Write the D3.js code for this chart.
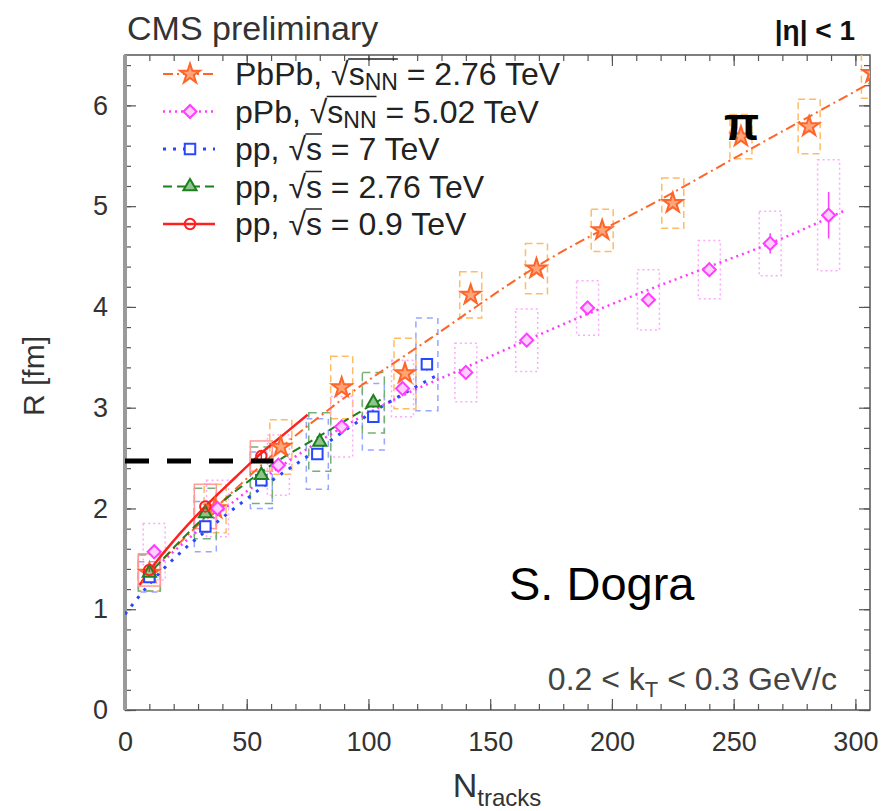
<!DOCTYPE html>
<html>
<head>
<meta charset="utf-8">
<script src="https://cdn.jsdelivr.net/npm/d3@7"></script>
<style>
body { margin: 0; background: #fff; }
text { font-family: "Liberation Sans", Arial, Helvetica, sans-serif; }
</style>
</head>
<body>
<div id="chart"></div>
<script>
// ---- data ----
// PbPb, sqrt(sNN) = 2.76 TeV
const pbpbN    = [10, 37, 64, 89, 115, 142, 169, 196, 225, 253, 281, 307];
const pbpbR    = [1.36, 2.0, 2.61, 3.2, 3.34, 4.12, 4.38, 4.76, 5.03, 5.69, 5.79, 6.32];
const pbpbSys  = [0.18, 0.24, 0.27, 0.31, 0.35, 0.23, 0.25, 0.21, 0.25, 0.22, 0.27, 0.25];
const pbpbStat = [0.02, 0.02, 0.03, 0.03, 0.03, 0.04, 0.04, 0.04, 0.05, 0.05, 0.06, 0.08];
const pbpbFitN = [10, 37, 63, 93, 125, 169, 224, 252, 309];
const pbpbFitR = [1.36, 2.0, 2.58, 3.15, 3.68, 4.4, 5.12, 5.5, 6.26];

// pPb, sqrt(sNN) = 5.02 TeV
const ppbN    = [12, 38, 63, 89, 114, 140, 165, 190, 215, 240, 265, 289];
const ppbR    = [1.57, 2.0, 2.43, 2.81, 3.19, 3.35, 3.67, 3.99, 4.07, 4.37, 4.63, 4.91];
const ppbSys  = [0.28, 0.28, 0.3, 0.3, 0.28, 0.29, 0.31, 0.27, 0.3, 0.29, 0.32, 0.55];
const ppbStat = [0.03, 0.03, 0.03, 0.03, 0.04, 0.04, 0.05, 0.05, 0.06, 0.07, 0.1, 0.23];
const ppbFitN = [10, 37, 63, 89, 114, 140, 165, 190, 215, 240, 265, 295];
const ppbFitR = [1.36, 1.92, 2.4, 2.8, 3.12, 3.4, 3.67, 3.93, 4.17, 4.4, 4.63, 4.95];

// pp, sqrt(s) = 7 TeV
const pp7N    = [10, 33, 56, 79, 102, 124];
const pp7R    = [1.32, 1.82, 2.28, 2.54, 2.91, 3.43];
const pp7Sys  = [0.15, 0.25, 0.28, 0.35, 0.33, 0.46];
const pp7Stat = [0.02, 0.02, 0.02, 0.03, 0.04, 0.06];
const pp7FitN = [0, 10, 20, 37, 57, 77, 100, 128];
const pp7FitR = [0.95, 1.25, 1.5, 1.85, 2.22, 2.55, 2.93, 3.32];

// pp, sqrt(s) = 2.76 TeV
const pp276N    = [10, 33, 56, 80, 102];
const pp276R    = [1.36, 1.95, 2.33, 2.66, 3.05];
const pp276Sys  = [0.18, 0.25, 0.28, 0.29, 0.3];
const pp276Stat = [0.02, 0.03, 0.03, 0.04, 0.05];
const pp276FitN = [8, 33, 57, 80, 105];
const pp276FitR = [1.3, 1.92, 2.38, 2.72, 3.08];

// pp, sqrt(s) = 0.9 TeV
const pp09N    = [10, 33, 56];
const pp09R    = [1.39, 2.02, 2.52];
const pp09Sys  = [0.16, 0.22, 0.15];
const pp09Stat = [0.02, 0.03, 0.04];
const pp09FitN = [6, 10, 20, 33, 45, 56, 66, 75];
const pp09FitR = [1.24, 1.38, 1.68, 2.02, 2.3, 2.55, 2.75, 2.93];

// black dashed reference line
const refN = [0, 61];
const refR = [2.47, 2.47];

const xTicks = [0, 50, 100, 150, 200, 250, 300];
const yTicks = [0, 1, 2, 3, 4, 5, 6];
const legendLabels = [
	["PbPb, ", "s", "NN", " = 2.76 TeV"],
	["pPb, ", "s", "NN", " = 5.02 TeV"],
	["pp, ", "s", "", " = 7 TeV"],
	["pp, ", "s", "", " = 2.76 TeV"],
	["pp, ", "s", "", " = 0.9 TeV"]
];

const series = [
	{n: pbpbN, r: pbpbR, sys: pbpbSys, stat: pbpbStat, fn: pbpbFitN, fr: pbpbFitR,
		color: "#ff6428", box: "#ffbb66", boxDash: "7,4", dash: "10,4,2,4", lw: 2,
		sym: d3.symbolStar, size: 120, fill: "#ffa57a", rot: 0},
	{n: ppbN, r: ppbR, sys: ppbSys, stat: ppbStat, fn: ppbFitN, fr: ppbFitR,
		color: "#ff3cff", box: "#ffa8ff", boxDash: "2,3", dash: "2,4", lw: 2.5,
		sym: d3.symbolSquare, size: 85, fill: "#ffd0ff", rot: 45},
	{n: pp7N, r: pp7R, sys: pp7Sys, stat: pp7Stat, fn: pp7FitN, fr: pp7FitR,
		color: "#2848ff", box: "#97a6ff", boxDash: "6,5", dash: "3,7", lw: 3,
		sym: d3.symbolSquare, size: 110, fill: "#ffffff", rot: 0},
	{n: pp276N, r: pp276R, sys: pp276Sys, stat: pp276Stat, fn: pp276FitN, fr: pp276FitR,
		color: "#1f7f1f", box: "#76b076", boxDash: "8,5", dash: "9,5", lw: 2,
		sym: d3.symbolTriangle, size: 75, fill: "#8fc48f", rot: 0},
	{n: pp09N, r: pp09R, sys: pp09Sys, stat: pp09Stat, fn: pp09FitN, fr: pp09FitR,
		color: "#ff2020", box: "#ff9a9a", boxDash: null, dash: null, lw: 2.5,
		sym: d3.symbolCircle, size: 85, fill: "none", rot: 0}
];

const margin = {top: 55, right: 15, bottom: 101, left: 125},
		width = 885 - margin.left - margin.right,
		height = 811 - margin.top - margin.bottom;

const root = d3.select("#chart").append("svg")
	.attr("width", 885)
	.attr("height", 811);

const svg = root.append("g")
	.attr("transform", `translate(${margin.left},${margin.top})`);

const x = d3.scaleLinear().domain([0, 306]).range([0, width]);
const y = d3.scaleLinear().domain([0, 6.5]).range([height, 0]);

svg.append("clipPath").attr("id", "plot-clip")
	.append("rect").attr("width", width).attr("height", height);

// axes, ticks inward on all four sides
const xMinor = d3.range(0, 306, 10);
const yMinor = d3.range(0, 6.5, 0.2).map(v => +v.toFixed(1));

function tickAxis(axis, pos, vals, size, fmt, pad) {
	const g = svg.append("g").attr("transform", pos)
		.call(axis.tickValues(vals).tickSize(-size).tickPadding(pad).tickFormat(fmt));
	g.select(".domain").remove();
	g.selectAll("line").attr("stroke", "#555").attr("stroke-width", 1.2);
	return g;
}
const none = () => "";
const bx = tickAxis(d3.axisBottom(x), `translate(0,${height})`, xTicks, 11, d3.format("d"), 22);
tickAxis(d3.axisBottom(x), `translate(0,${height})`, xMinor, 6, none, 0);
tickAxis(d3.axisTop(x), "translate(0,0)", xTicks, 11, none, 0);
tickAxis(d3.axisTop(x), "translate(0,0)", xMinor, 6, none, 0);
const ly = tickAxis(d3.axisLeft(y), "translate(0,0)", yTicks, 11, d3.format("d"), 17);
tickAxis(d3.axisLeft(y), "translate(0,0)", yMinor, 6, none, 0);
tickAxis(d3.axisRight(y), `translate(${width},0)`, yTicks, 11, none, 0);
tickAxis(d3.axisRight(y), `translate(${width},0)`, yMinor, 6, none, 0);

bx.selectAll("text").attr("font-size", 27).attr("fill", "#333");
ly.selectAll("text").attr("font-size", 27).attr("fill", "#333");

// frame
svg.append("rect")
	.attr("width", width).attr("height", height)
	.attr("fill", "none").attr("stroke", "#555").attr("stroke-width", 1.5);
svg.append("line")
	.attr("x1", 0).attr("x2", 0).attr("y1", 0).attr("y2", height)
	.attr("stroke", "#9a9a9a").attr("stroke-width", 4);

const plot = svg.append("g").attr("clip-path", "url(#plot-clip)");
const boxW = 11;

// systematic boxes
series.forEach(s => {
	plot.append("g").selectAll("rect")
		.data(s.n.map((n, i) => ({n, r: s.r[i], e: s.sys[i]})))
		.join("rect")
			.attr("x", d => x(d.n) - boxW)
			.attr("width", boxW * 2)
			.attr("y", d => y(d.r + d.e))
			.attr("height", d => y(d.r - d.e) - y(d.r + d.e))
			.attr("fill", "none")
			.attr("stroke", s.box)
			.attr("stroke-width", 1.5)
			.attr("stroke-dasharray", s.boxDash);
});

// fit curves
const line = d3.line().x(d => x(d[0])).y(d => y(d[1])).curve(d3.curveMonotoneX);
series.forEach(s => {
	plot.append("path")
		.datum(s.fn.map((n, i) => [n, s.fr[i]]))
		.attr("d", line)
		.attr("fill", "none")
		.attr("stroke", s.color)
		.attr("stroke-width", s.lw)
		.attr("stroke-dasharray", s.dash);
});

// stat errors and markers
series.forEach(s => {
	const pts = s.n.map((n, i) => ({n, r: s.r[i], e: s.stat[i]}));
	plot.append("g").selectAll("line")
		.data(pts)
		.join("line")
			.attr("x1", d => x(d.n)).attr("x2", d => x(d.n))
			.attr("y1", d => y(d.r + d.e)).attr("y2", d => y(d.r - d.e))
			.attr("stroke", s.color).attr("stroke-width", 1.5);
	plot.append("g").selectAll("path")
		.data(pts)
		.join("path")
			.attr("transform", d => `translate(${x(d.n)},${y(d.r)}) rotate(${s.rot})`)
			.attr("d", d3.symbol().type(s.sym).size(s.size))
			.attr("fill", s.fill)
			.attr("stroke", s.color)
			.attr("stroke-width", 2);
});

// black dashed line
svg.append("line")
	.attr("x1", x(refN[0])).attr("x2", x(refN[1]))
	.attr("y1", y(refR[0])).attr("y2", y(refR[1]))
	.attr("stroke", "#000").attr("stroke-width", 5)
	.attr("stroke-dasharray", "24,18");

// legend
const legend = svg.append("g").attr("transform", "translate(38,19)");
series.forEach((s, i) => {
	const g = legend.append("g").attr("transform", `translate(0,${i * 37.5})`);
	g.append("line").attr("x1", 0).attr("x2", 52)
		.attr("stroke", s.color).attr("stroke-width", s.lw)
		.attr("stroke-dasharray", s.dash);
	g.append("path")
		.attr("transform", `translate(27,0) rotate(${s.rot})`)
		.attr("d", d3.symbol().type(s.sym).size(s.size))
		.attr("fill", s.fill).attr("stroke", s.color).attr("stroke-width", 2);
	const lab = legendLabels[i];
	const t = g.append("text").attr("x", 72).attr("y", 11)
		.attr("font-size", 32).attr("fill", "#222");
	t.append("tspan").text(lab[0]);
	const rad = t.append("tspan").text("\u221A");
	const s1 = t.append("tspan").text(lab[1]);
	let last = s1;
	if (lab[2]) {
		last = t.append("tspan").attr("dy", 5).attr("font-size", 23).text(lab[2]);
		t.append("tspan").attr("dy", -5).text(lab[3]);
	} else {
		t.append("tspan").text(lab[3]);
	}
	const rb = rad.node().getBBox(), lb = last.node().getBBox();
	g.append("line")
		.attr("x1", rb.x + rb.width - 1).attr("x2", lb.x + lb.width)
		.attr("y1", rb.y + 3).attr("y2", rb.y + 3)
		.attr("stroke", "#222").attr("stroke-width", 1.5);
});

// labels
root.append("text").attr("x", 127).attr("y", 40)
	.attr("font-size", 34).attr("fill", "#333").text("CMS preliminary");
const eta = root.append("text").attr("x", 855).attr("y", 40)
	.attr("text-anchor", "end").attr("font-size", 28).attr("font-weight", "bold").attr("fill", "#111");
eta.text("|\u03B7| < 1");

root.append("text").attr("x", 724).attr("y", 140)
	.attr("font-family", "Liberation Serif, DejaVu Serif, serif")
	.attr("font-size", 46).attr("font-weight", "bold").attr("fill", "#000")
	.text("\u03C0");

root.append("text").attr("x", 509).attr("y", 600)
	.attr("font-size", 47).attr("fill", "#000").text("S. Dogra");

const kt = root.append("text").attr("x", 837).attr("y", 690)
	.attr("text-anchor", "end").attr("font-size", 32).attr("fill", "#444");
kt.append("tspan").text("0.2 < k");
kt.append("tspan").attr("dy", 7).attr("font-size", 22).text("T");
kt.append("tspan").attr("dy", -7).text(" < 0.3 GeV/c");

const xl = root.append("text").attr("x", 497).attr("y", 797)
	.attr("text-anchor", "middle").attr("font-size", 34).attr("fill", "#333");
xl.append("tspan").text("N");
xl.append("tspan").attr("dy", 9).attr("font-size", 24).text("tracks");

root.append("text")
	.attr("transform", "translate(44,376) rotate(-90)")
	.attr("text-anchor", "middle").attr("font-size", 30).attr("fill", "#333")
	.text("R [fm]");
</script>
</body>
</html>
